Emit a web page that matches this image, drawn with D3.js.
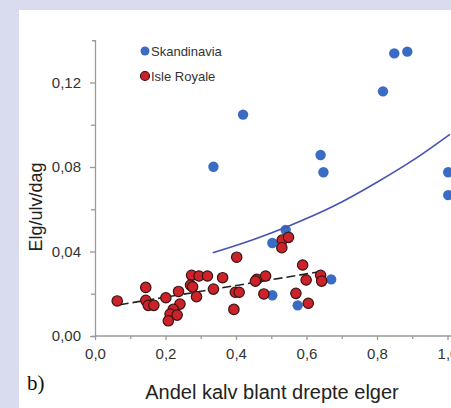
<!DOCTYPE html>
<html>
<head>
<meta charset="utf-8">
<script src="https://cdn.jsdelivr.net/npm/d3@7"></script>
<style>
  html, body { margin: 0; padding: 0; background: #d9dcef; overflow: hidden; }
  svg { display: block; }
</style>
</head>
<body>
<svg id="chart" width="451" height="408"></svg>
<script>
// Skandinavia (andel kalv, elg/ulv/dag)
var skandX = [0.849, 0.886, 0.817, 0.420, 0.336, 0.640, 0.648, 1.002, 1.002, 0.541, 0.503, 0.670, 0.503, 0.575];
var skandY = [0.1338, 0.1346, 0.1158, 0.1048, 0.0801, 0.0857, 0.0775, 0.0775, 0.0667, 0.0502, 0.0440, 0.0268, 0.0193, 0.0145];

// Isle Royale
var royaleX = [0.063, 0.144, 0.144, 0.151, 0.167, 0.201, 0.237, 0.241, 0.222, 0.213, 0.233, 0.208,
               0.274, 0.295, 0.319, 0.271, 0.277, 0.288, 0.336, 0.362, 0.402, 0.398, 0.409, 0.394,
               0.459, 0.455, 0.484, 0.479, 0.531, 0.549, 0.530, 0.589, 0.599, 0.570, 0.605, 0.640, 0.643];
var royaleY = [0.0166, 0.0230, 0.0169, 0.0145, 0.0145, 0.0181, 0.0211, 0.0151, 0.0126, 0.0104, 0.0099, 0.0072,
               0.0287, 0.0284, 0.0284, 0.0241, 0.0233, 0.0186, 0.0222, 0.0276, 0.0373, 0.0207, 0.0207, 0.0126,
               0.0268, 0.0260, 0.0284, 0.0199, 0.0454, 0.0467, 0.0418, 0.0336, 0.0265, 0.0202, 0.0155, 0.0287, 0.0260];

// fitted curves
var skandFitX = [0.334, 0.45, 0.55, 0.676, 0.80, 0.90, 1.007];
var skandFitY = [0.0394, 0.0457, 0.0521, 0.0614, 0.0728, 0.0830, 0.0955];
var royaleFitX = [0.07, 0.64];
var royaleFitY = [0.0148, 0.0305];

var xMajor = [0, 0.2, 0.4, 0.6, 0.8, 1.0];
var xMinor = [0.1, 0.3, 0.5, 0.7, 0.9];
var yMajor = [0, 0.04, 0.08, 0.12];
var yMinor = [0.02, 0.06, 0.10];

var legendNames = ["Skandinavia", "Isle Royale"];

var blue = "#3b6cc4", red = "#cc2229";
var fmt = function(d) { return d3.format(".1f")(d).replace(".", ","); };
var fmtY = function(d) { return d3.format(".2f")(d).replace(".", ","); };

var svg = d3.select("#chart");

// white panel
svg.append("rect").attr("x", 19).attr("y", 10).attr("width", 440).attr("height", 400).attr("fill", "#fff");

var x = d3.scaleLinear().domain([0, 1]).range([95, 447.5]);
var y = d3.scaleLinear().domain([0, 0.14]).range([336, 40.25]);

var axisColor = "#9a9a9a";

function styleAxis(g) {
    g.selectAll("path, line").attr("stroke", axisColor).attr("stroke-width", 1.3);
    g.selectAll("text").attr("fill", "#333").style("font-family", "'Liberation Sans', Arial, sans-serif").style("font-size", "15px");
}

// x axis
var xAxisG = svg.append("g").attr("transform", "translate(0,336)")
    .call(d3.axisBottom(x).tickValues(xMajor).tickFormat(fmt).tickSize(4).tickSizeOuter(0).tickPadding(8));
xAxisG.select(".domain").attr("d", "M" + x(0) + ",0H470");
styleAxis(xAxisG);
var xMinorG = svg.append("g").attr("transform", "translate(0,336)")
    .call(d3.axisBottom(x).tickValues(xMinor).tickFormat("").tickSize(3).tickSizeOuter(0));
xMinorG.select(".domain").remove();
styleAxis(xMinorG);

// y axis
var yAxisG = svg.append("g").attr("transform", "translate(95,0)")
    .call(d3.axisLeft(y).tickValues(yMajor).tickFormat(fmtY).tickSize(5).tickSizeOuter(3).tickPadding(9));
styleAxis(yAxisG);
var yMinorG = svg.append("g").attr("transform", "translate(95,0)")
    .call(d3.axisLeft(y).tickValues(yMinor).tickFormat("").tickSize(4).tickSizeOuter(0));
yMinorG.select(".domain").remove();
styleAxis(yMinorG);

// Skandinavia points
svg.append("g").selectAll("circle")
    .data(d3.range(skandX.length))
    .enter().append("circle")
    .attr("cx", function(i) { return x(skandX[i]); })
    .attr("cy", function(i) { return y(skandY[i]); })
    .attr("r", 5.2)
    .attr("fill", blue);

// Skandinavia fit
var line = d3.line().x(function(d) { return x(d[0]); }).y(function(d) { return y(d[1]); });
svg.append("path")
    .attr("d", line.curve(d3.curveMonotoneX)(d3.zip(skandFitX, skandFitY)))
    .attr("fill", "none").attr("stroke", "#4852b3").attr("stroke-width", 1.6);

// Isle Royale fit (dashed)
svg.append("path")
    .attr("d", line.curve(d3.curveLinear)(d3.zip(royaleFitX, royaleFitY)))
    .attr("fill", "none").attr("stroke", "#222").attr("stroke-width", 1.6)
    .attr("stroke-dasharray", "9,4");

// Isle Royale points
svg.append("g").selectAll("circle")
    .data(d3.range(royaleX.length))
    .enter().append("circle")
    .attr("cx", function(i) { return x(royaleX[i]); })
    .attr("cy", function(i) { return y(royaleY[i]); })
    .attr("r", 5.2)
    .attr("fill", red)
    .attr("stroke", "#3a1414").attr("stroke-width", 1.2);

// legend
var legend = svg.append("g").selectAll("g")
    .data(legendNames)
    .enter().append("g")
    .attr("transform", function(d, i) { return "translate(145," + (51 + i * 25) + ")"; });
legend.append("circle").attr("r", 4.5)
    .attr("fill", function(d, i) { return i === 0 ? blue : red; })
    .attr("stroke", function(d, i) { return i === 0 ? "none" : "#3a1414"; })
    .attr("stroke-width", 1.2);
legend.append("text").attr("x", 6).attr("y", 4.5)
    .attr("fill", "#333")
    .style("font-family", "'Liberation Sans', Arial, sans-serif").style("font-size", "13px")
    .text(function(d) { return d; });

// axis titles
svg.append("text")
    .attr("transform", "translate(42,207) rotate(-90)")
    .attr("text-anchor", "middle")
    .attr("fill", "#222")
    .style("font-family", "'Liberation Sans', Arial, sans-serif").style("font-size", "18px")
    .text("Elg/ulv/dag");

svg.append("text")
    .attr("x", 272).attr("y", 399)
    .attr("text-anchor", "middle")
    .attr("fill", "#222")
    .style("font-family", "'Liberation Sans', Arial, sans-serif").style("font-size", "20px")
    .text("Andel kalv blant drepte elger");

svg.append("text")
    .attr("x", 27).attr("y", 390)
    .attr("fill", "#111")
    .style("font-family", "'Liberation Serif', 'DejaVu Serif', serif").style("font-size", "21px")
    .text("b)");
</script>
</body>
</html>
